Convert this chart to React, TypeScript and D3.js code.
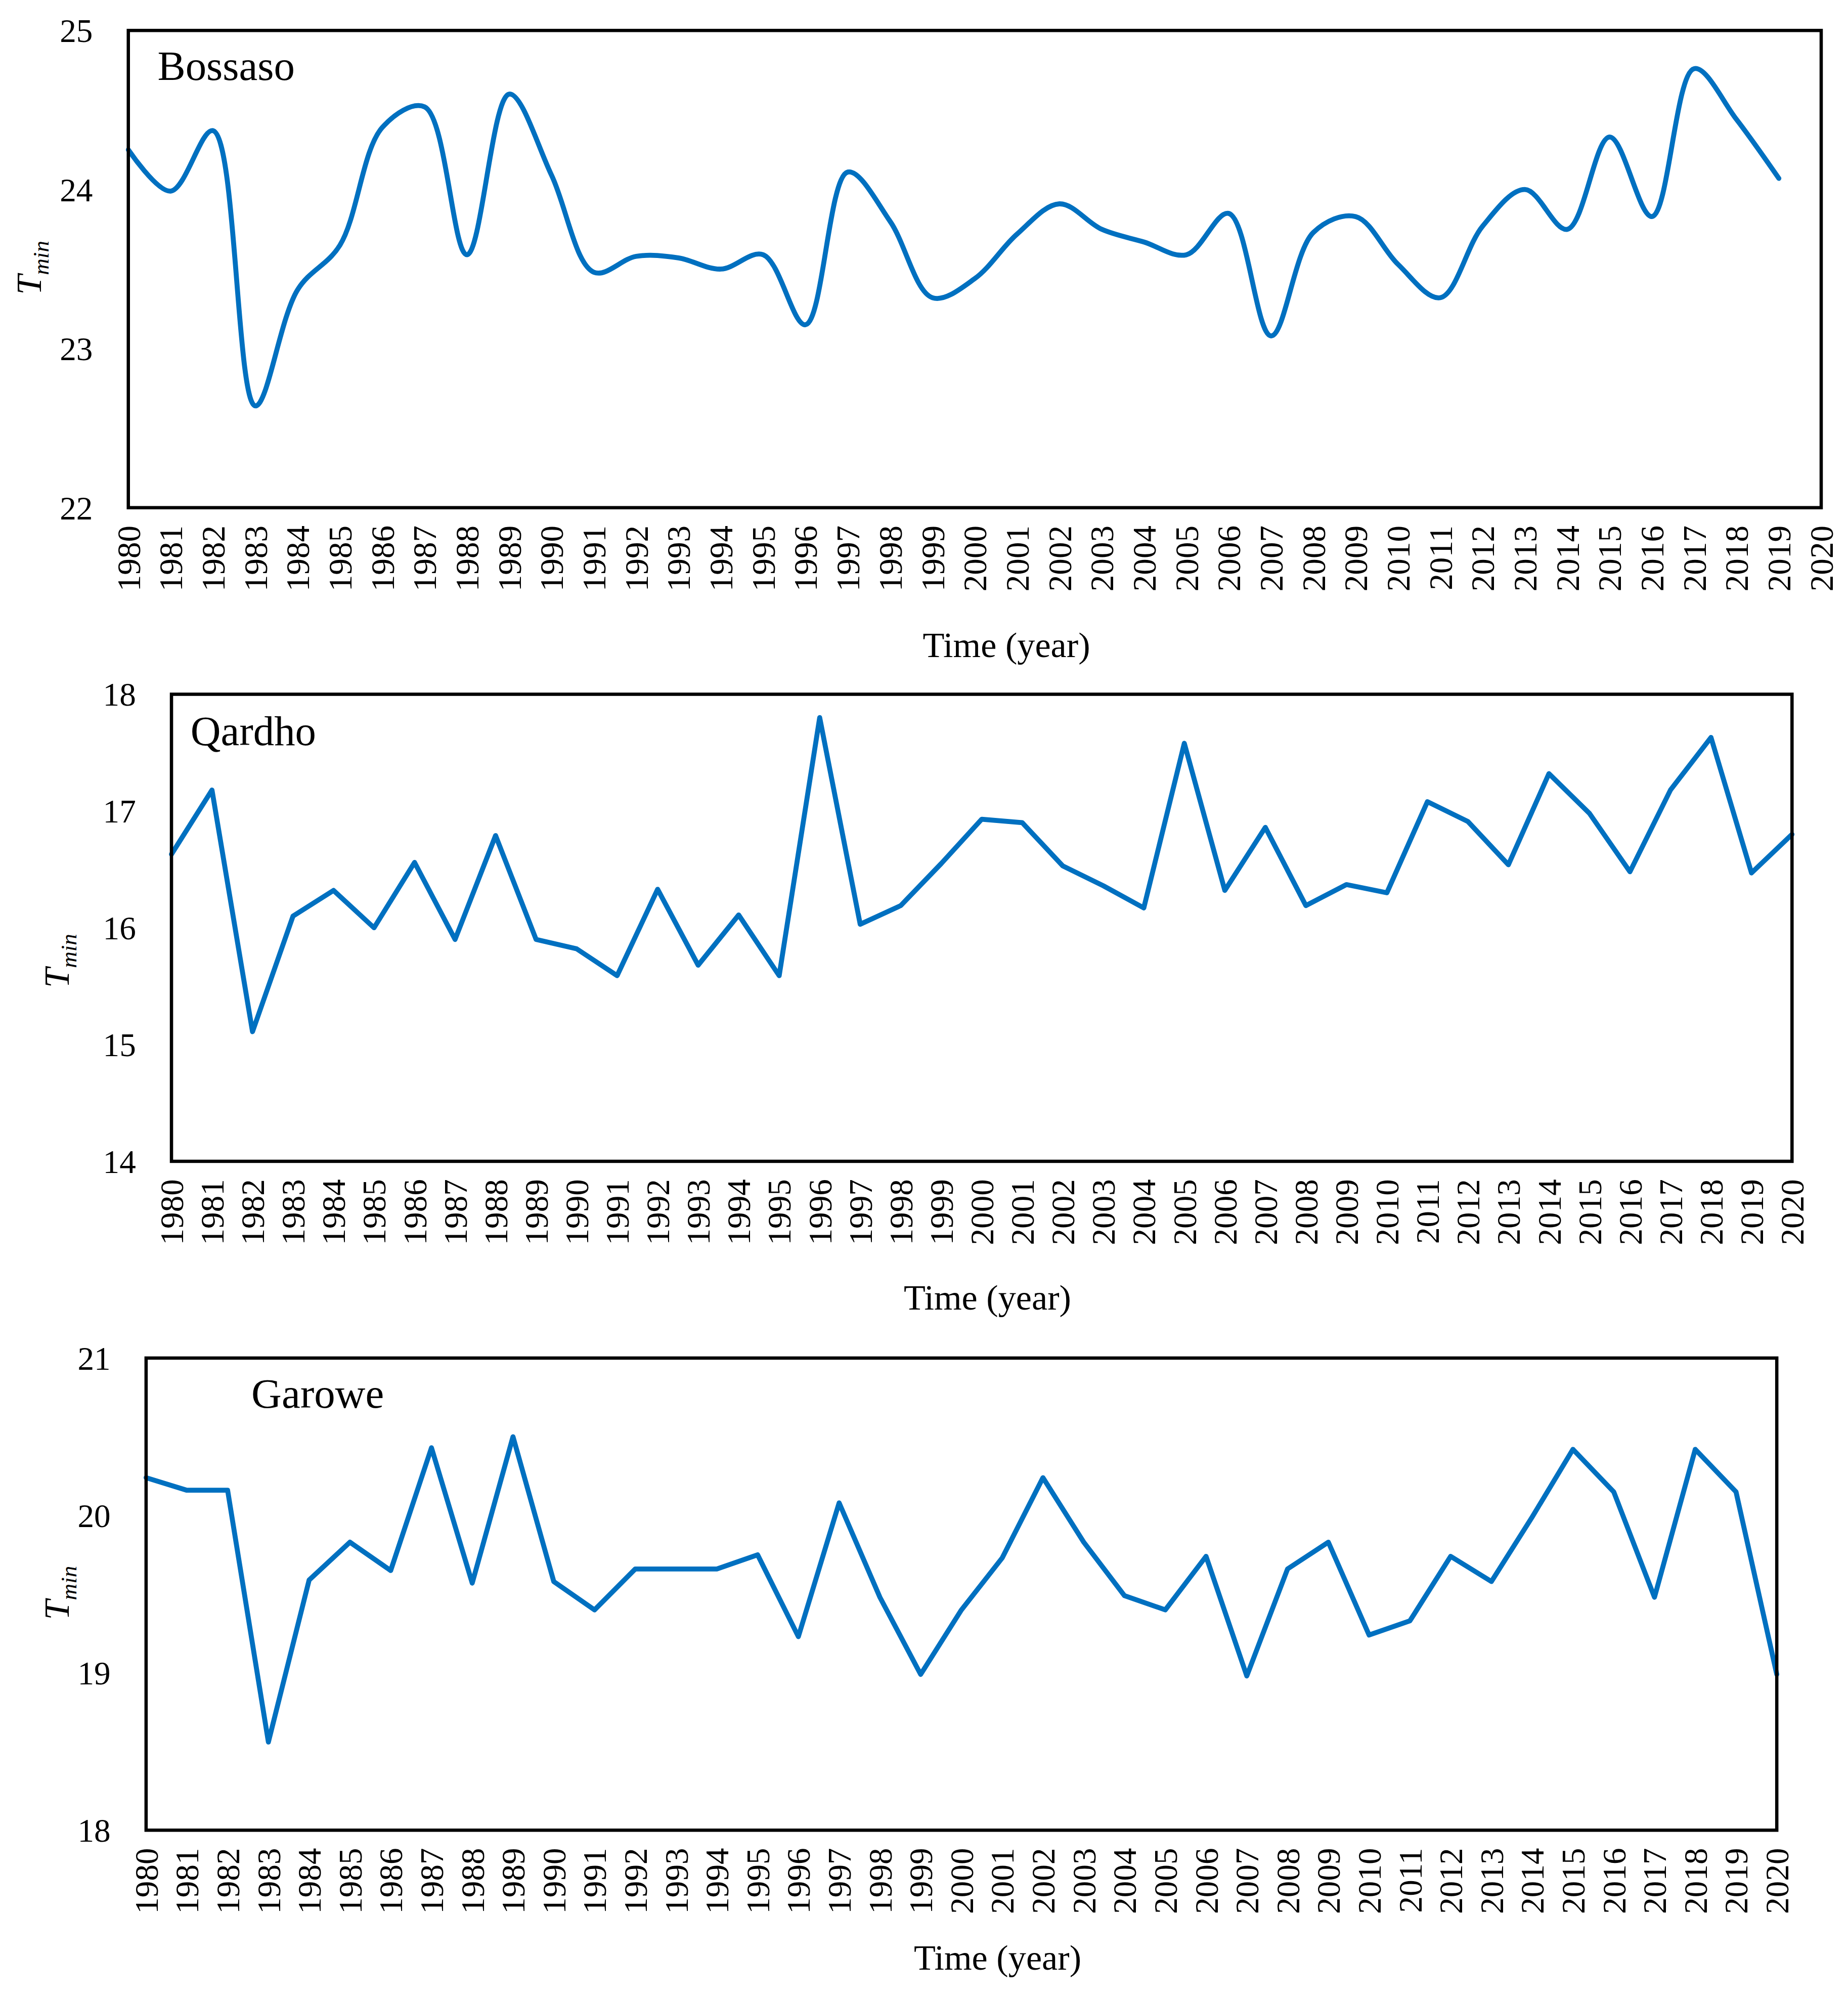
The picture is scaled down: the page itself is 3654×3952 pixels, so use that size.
import * as d3 from 'd3';
import React from 'react';

// Years on the category axis (all three panels)
const years = [
  1980, 1981, 1982, 1983, 1984, 1985, 1986, 1987, 1988, 1989,
  1990, 1991, 1992, 1993, 1994, 1995, 1996, 1997, 1998, 1999,
  2000, 2001, 2002, 2003, 2004, 2005, 2006, 2007, 2008, 2009,
  2010, 2011, 2012, 2013, 2014, 2015, 2016, 2017, 2018, 2019, 2020,
];

// Tmin series (Bossaso stops at 2019)
const bossasoTmin = [
  24.25, 23.99, 24.37, 22.64, 23.37, 23.65, 24.39, 24.52, 23.59, 24.6,
  24.09, 23.48, 23.58, 23.57, 23.5, 23.59, 23.15, 24.11, 23.8, 23.32,
  23.44, 23.72, 23.91, 23.75, 23.67, 23.59, 23.85, 23.08, 23.73, 23.83,
  23.53, 23.32, 23.77, 24.0, 23.75, 24.33, 23.83, 24.76, 24.44, 24.07,
];

const qardhoTmin = [
  16.63, 17.18, 15.11, 16.1, 16.32, 16.0, 16.56, 15.9, 16.79, 15.9,
  15.82, 15.59, 16.33, 15.68, 16.11, 15.59, 17.8, 16.03, 16.19, 16.55,
  16.93, 16.9, 16.53, 16.36, 16.17, 17.58, 16.32, 16.86, 16.19, 16.37,
  16.3, 17.08, 16.91, 16.54, 17.32, 16.98, 16.48, 17.18, 17.63, 16.47, 16.8,
];

const garoweTmin = [
  20.24, 20.16, 20.16, 18.56, 19.59, 19.83, 19.65, 20.43, 19.57, 20.5,
  19.58, 19.4, 19.66, 19.66, 19.66, 19.75, 19.23, 20.08, 19.48, 18.99,
  19.4, 19.73, 20.24, 19.83, 19.49, 19.4, 19.74, 18.98, 19.66, 19.83,
  19.24, 19.33, 19.74, 19.58, 19.99, 20.42, 20.15, 19.48, 20.42, 20.15, 18.99,
];

const bossasoTicks = [22, 23, 24, 25];
const qardhoTicks = [14, 15, 16, 17, 18];
const garoweTicks = [18, 19, 20, 21];

const FONT = '"Liberation Serif", "Times New Roman", serif';
const BLUE = '#0070c0';

// layout in a 1456 x 1575 design space, scaled up to the page
const VW = 1456;
const VH = 1575;

const panels = [
  {
    name: 'Bossaso', values: bossasoTmin, ticks: bossasoTicks, smooth: true,
    left: 101, right: 1435, top: 24, bottom: 400,
    nameX: 124, nameY: 63, titleX: 793, titleDy: 108, labelX: 24, labelY: 211,
  },
  {
    name: 'Qardho', values: qardhoTmin, ticks: qardhoTicks, smooth: false,
    left: 135, right: 1412, top: 547, bottom: 915,
    nameX: 150, nameY: 587, titleX: 778, titleDy: 107, labelX: 46, labelY: 757,
  },
  {
    name: 'Garowe', values: garoweTmin, ticks: garoweTicks, smooth: false,
    left: 115, right: 1400, top: 1070, bottom: 1442,
    nameX: 198, nameY: 1109, titleX: 786, titleDy: 100, labelX: 46, labelY: 1255,
  },
];

function Panel({ p }) {
  const x = d3.scaleLinear().domain([years[0], years[years.length - 1]]).range([p.left, p.right]);
  const y = d3
    .scaleLinear()
    .domain([p.ticks[0], p.ticks[p.ticks.length - 1]])
    .range([p.bottom, p.top]);

  const line = d3
    .line<number>()
    .x((d, i) => x(years[i]))
    .y(d => y(d))
    .curve(p.smooth ? d3.curveCatmullRom.alpha(0.5) : d3.curveLinear);

  return (
    <g>
      {/* series */}
      <path
        d={line(p.values) || ''}
        fill="none"
        stroke={BLUE}
        strokeWidth={3.9}
        strokeLinejoin="round"
        strokeLinecap="round"
      />

      {/* plot frame */}
      <rect
        x={p.left}
        y={p.top}
        width={p.right - p.left}
        height={p.bottom - p.top}
        fill="none"
        stroke="#000"
        strokeWidth={2.6}
      />

      {/* y tick labels */}
      {p.ticks.map(t => (
        <text
          key={t}
          x={p.left - 28}
          y={y(t)}
          dy="0.35em"
          textAnchor="end"
          fontSize={26}
          fontFamily={FONT}
          fill="#000"
        >
          {t}
        </text>
      ))}

      {/* year labels, rotated */}
      {years.map(yr => (
        <text
          key={yr}
          transform={`translate(${x(yr)},${p.bottom + 14}) rotate(-90)`}
          dy="0.35em"
          textAnchor="end"
          fontSize={26}
          fontFamily={FONT}
          fill="#000"
        >
          {yr}
        </text>
      ))}

      {/* station name */}
      <text x={p.nameX} y={p.nameY} fontSize={33} fontFamily={FONT} fill="#000">
        {p.name}
      </text>

      {/* x axis title */}
      <text
        x={p.titleX}
        y={p.bottom + p.titleDy}
        dy="0.35em"
        textAnchor="middle"
        fontSize={28}
        fontFamily={FONT}
        fill="#000"
      >
        Time (year)
      </text>

      {/* y axis title: T_min */}
      <text
        transform={`translate(${p.labelX + 8},${p.labelY}) rotate(-90)`}
        textAnchor="middle"
        fontFamily={FONT}
        fontStyle="italic"
        fill="#000"
      >
        <tspan fontSize={28}>T</tspan>
        <tspan fontSize={18} dy={6}>min</tspan>
      </text>
    </g>
  );
}

export default function App() {
  return (
    <div style={{ position: 'absolute', left: 0, top: 0, background: '#fff' }}>
      <svg
        width={3654}
        height={3952}
        viewBox={`0 0 ${VW} ${VH}`}
        style={{ display: 'block', background: '#fff' }}
      >
        <rect x={0} y={0} width={VW} height={VH} fill="#fff" />
        {panels.map(p => (
          <Panel key={p.name} p={p} />
        ))}
      </svg>
    </div>
  );
}
